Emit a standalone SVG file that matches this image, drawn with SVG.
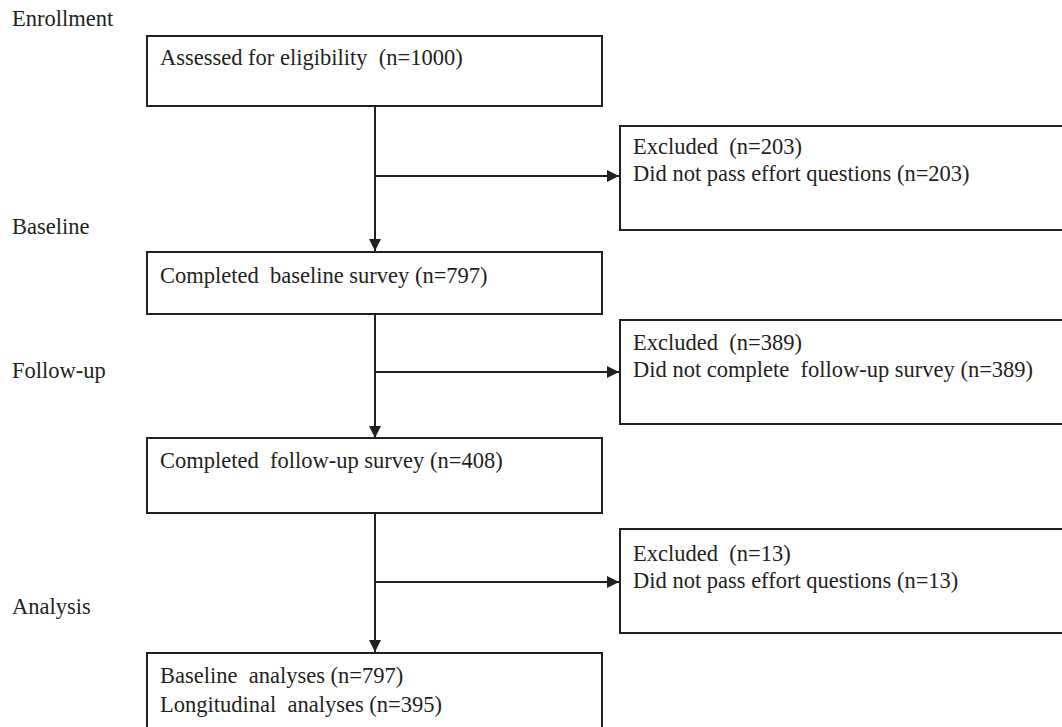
<svg xmlns="http://www.w3.org/2000/svg" width="1062" height="727" viewBox="0 0 1062 727">
<style>
text{font-family:"Liberation Serif","Times New Roman",serif;font-size:22.5px;fill:#231f20;white-space:pre}
.box{fill:#fff;stroke:#231f20;stroke-width:2}
.ln{fill:none;stroke:#231f20;stroke-width:2}
</style>
<defs>
<marker id="ah" viewBox="0 0 10 10" refX="10" refY="5" markerWidth="6" markerHeight="6" markerUnits="strokeWidth" orient="auto">
<path d="M0,0 L10,5 L0,10 Z" fill="#231f20"/>
</marker>
</defs>
<rect width="1062" height="727" fill="#fff"/>
<g id="labels">
<text x="12" y="26">Enrollment</text>
<text x="12" y="234">Baseline</text>
<text x="12" y="378">Follow-up</text>
<text x="12" y="614">Analysis</text>
</g>
<g id="connectors">
<line class="ln" x1="375" y1="106" x2="375" y2="251" marker-end="url(#ah)"/>
<line class="ln" x1="375" y1="176" x2="619" y2="176" marker-end="url(#ah)"/>
<line class="ln" x1="375" y1="314" x2="375" y2="438" marker-end="url(#ah)"/>
<line class="ln" x1="375" y1="372" x2="619" y2="372" marker-end="url(#ah)"/>
<line class="ln" x1="375" y1="513" x2="375" y2="652" marker-end="url(#ah)"/>
<line class="ln" x1="375" y1="582" x2="619" y2="582" marker-end="url(#ah)"/>
</g>
<g id="n1">
<rect class="box" x="147" y="36" width="455" height="70"/>
<text x="160" y="65" xml:space="preserve">Assessed for eligibility  (n=1000)</text>
</g>
<g id="x1">
<rect class="box" x="620" y="126" width="460" height="104"/>
<text x="633" y="154" xml:space="preserve">Excluded  (n=203)</text>
<text x="633" y="181">Did not pass effort questions (n=203)</text>
</g>
<g id="n2">
<rect class="box" x="147" y="252" width="455" height="62"/>
<text x="160" y="283" xml:space="preserve">Completed  baseline survey (n=797)</text>
</g>
<g id="x2">
<rect class="box" x="620" y="320" width="460" height="104"/>
<text x="633" y="350" xml:space="preserve">Excluded  (n=389)</text>
<text x="633" y="377" xml:space="preserve">Did not complete  follow-up survey (n=389)</text>
</g>
<g id="n3">
<rect class="box" x="147" y="438" width="455" height="75"/>
<text x="160" y="468" xml:space="preserve">Completed  follow-up survey (n=408)</text>
</g>
<g id="x3">
<rect class="box" x="620" y="529" width="460" height="104"/>
<text x="633" y="561" xml:space="preserve">Excluded  (n=13)</text>
<text x="633" y="588">Did not pass effort questions (n=13)</text>
</g>
<g id="n4">
<rect class="box" x="147" y="653" width="455" height="90"/>
<text x="160" y="683" xml:space="preserve">Baseline  analyses (n=797)</text>
<text x="160" y="712" xml:space="preserve">Longitudinal  analyses (n=395)</text>
</g>
</svg>
